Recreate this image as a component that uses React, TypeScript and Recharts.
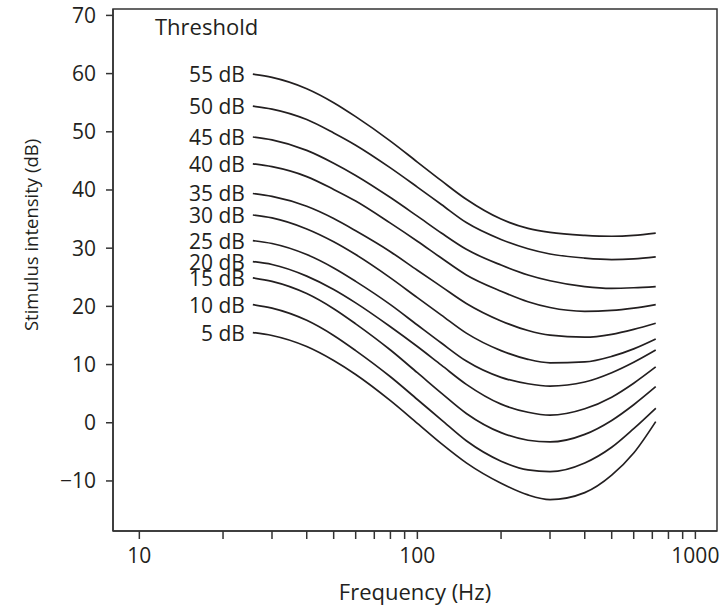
import { LineChart, Line, XAxis, YAxis, ReferenceArea, LabelList } from 'recharts';

const freqs = [25.6, 30, 40, 50, 60, 80, 100, 122, 150, 200, 250, 300, 400, 500, 600, 720];

const db55 = [59.9, 59.35, 57.4, 55.0, 52.6, 48.4, 44.8, 41.6, 38.4, 35.0, 33.4, 32.7, 32.2, 32.05, 32.2, 32.6];
const db50 = [54.4, 53.9, 52.1, 49.8, 47.7, 43.8, 40.5, 37.5, 34.4, 31.5, 29.9, 29.0, 28.3, 28.05, 28.15, 28.5];
const db45 = [49.1, 48.6, 46.8, 44.6, 42.5, 38.7, 35.5, 32.6, 29.8, 27.1, 25.4, 24.4, 23.4, 23.1, 23.2, 23.4];
const db40 = [44.5, 44.0, 42.3, 40.1, 38.1, 34.3, 31.2, 28.3, 25.4, 22.6, 20.8, 19.8, 19.15, 19.3, 19.7, 20.3];
const db35 = [39.4, 38.9, 37.2, 35.1, 33.0, 29.4, 26.2, 23.4, 20.5, 17.5, 15.85, 15.05, 14.7, 15.2, 16.05, 17.1];
const db30 = [35.7, 35.2, 33.3, 31.1, 28.9, 24.9, 21.5, 18.5, 15.4, 12.4, 10.9, 10.3, 10.45, 11.4, 12.7, 14.4];
const db25 = [31.3, 30.8, 28.9, 26.6, 24.3, 20.3, 16.8, 13.7, 10.6, 7.8, 6.7, 6.3, 7.0, 8.6, 10.4, 12.5];
const db20 = [27.7, 27.2, 25.2, 22.9, 20.6, 16.5, 13.1, 9.9, 6.6, 3.2, 1.8, 1.3, 2.4, 4.4, 6.8, 9.6];
const db15 = [24.9, 24.3, 22.2, 19.6, 17.0, 12.5, 8.6, 5.1, 1.6, -1.7, -3.0, -3.3, -2.0, 0.4, 3.1, 6.2];
const db10 = [20.3, 19.7, 17.6, 15.0, 12.4, 7.9, 4.0, 0.5, -3.1, -6.6, -8.1, -8.4, -6.9, -4.2, -1.0, 2.5];
const db5 = [15.5, 15.0, 13.1, 10.7, 8.3, 3.8, -0.1, -3.6, -6.9, -10.4, -12.4, -13.2, -12.0, -9.0, -5.2, 0.2];

const seriesNames = ['55 dB', '50 dB', '45 dB', '40 dB', '35 dB', '30 dB', '25 dB', '20 dB', '15 dB', '10 dB', '5 dB'];
const seriesValues = [db55, db50, db45, db40, db35, db30, db25, db20, db15, db10, db5];

const xTicks = [10, 20, 30, 40, 50, 60, 70, 80, 90, 100, 200, 300, 400, 500, 600, 700, 800, 900, 1000];
const xLabelled = [10, 100, 1000];
const yTicks = [-10, 0, 10, 20, 30, 40, 50, 60, 70];

const X_DOMAIN = [8.04, 1196];
const Y_DOMAIN = [-18.6, 71.1];

const data = freqs.map((f, i) => {
  const row: Record<string, number> = { f };
  seriesNames.forEach((name, s) => {
    row[name] = seriesValues[s][i];
  });
  return row;
});

const FONT = '"Open Sans", sans-serif';
const INK = '#231f20';

// series name drawn to the left of the first point only
const renderStartLabel = (props: any) => {
  const { x, y, index, value } = props;
  if (index !== 0) return null;
  return (
    <text
      x={+x - 8}
      y={+y}
      textAnchor='end'
      dominantBaseline='central'
      fontFamily={FONT}
      fontSize={21}
      fill={INK}
    >
      {value}
    </text>
  );
};

const App = () => {
  return (
    <div style={{ position: 'absolute', left: 0, top: 0, width: 723, height: 610, background: '#fff' }}>
      <LineChart
        width={723}
        height={610}
        data={data}
        margin={{ top: 9, right: 6, left: 0, bottom: 0 }}
      >
        <ReferenceArea
          x1={X_DOMAIN[0]}
          x2={X_DOMAIN[1]}
          y1={Y_DOMAIN[0]}
          y2={Y_DOMAIN[1]}
          fill='none'
          fillOpacity={0}
          stroke='#333'
          strokeWidth={1.5}
        />
        <XAxis
          dataKey='f'
          type='number'
          scale='log'
          domain={X_DOMAIN}
          allowDataOverflow
          ticks={xTicks}
          interval={0}
          height={79}
          tickSize={8}
          tickMargin={9}
          stroke='#333'
          strokeWidth={1.5}
          tick={{ fill: INK, fontFamily: FONT, fontSize: 21 }}
          tickFormatter={(v: number) => (xLabelled.includes(v) ? String(v) : '')}
          label={{ value: 'Frequency (Hz)', position: 'insideBottom', offset: 10, fill: INK, fontFamily: FONT, fontSize: 22 }}
        />
        <YAxis
          type='number'
          domain={Y_DOMAIN}
          allowDataOverflow
          ticks={yTicks}
          interval={0}
          width={113}
          tickSize={7}
          tickMargin={10}
          stroke='#333'
          strokeWidth={1.5}
          tick={{ fill: INK, fontFamily: FONT, fontSize: 21 }}
          tickFormatter={(v: number) => (v < 0 ? '\u2212' + Math.abs(v) : String(v))}
        />
        {seriesNames.map((name) => (
          <Line
            key={name}
            dataKey={name}
            type='monotone'
            stroke={INK}
            strokeWidth={1.7}
            dot={false}
            activeDot={false}
            isAnimationActive={false}
          >
            <LabelList dataKey={() => name} content={renderStartLabel} />
          </Line>
        ))}
      </LineChart>
      <svg
        width={723}
        height={610}
        style={{ position: 'absolute', left: 0, top: 0, pointerEvents: 'none' }}
      >
        <text x={155} y={35} fontFamily={FONT} fontSize={22} fill={INK}>
          Threshold
        </text>
        <text
          x={30}
          y={235}
          transform='rotate(-90, 30, 235)'
          textAnchor='middle'
          dominantBaseline='central'
          fontFamily={FONT}
          fontSize={18.5}
          fill={INK}
        >
          Stimulus intensity (dB)
        </text>
      </svg>
    </div>
  );
};

export default App;
